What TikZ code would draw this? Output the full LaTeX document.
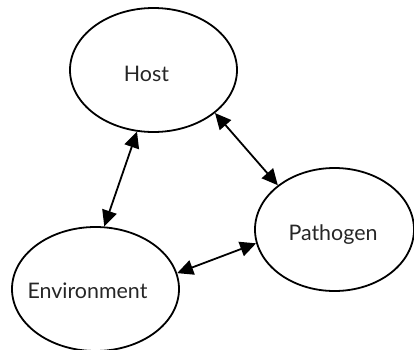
\documentclass[tikz,border=0pt]{standalone}
\usepackage{fontspec}
\setmainfont{Lato}
\usetikzlibrary{shapes.geometric,arrows.meta}
\begin{document}
\begin{tikzpicture}[x=1bp,y=-1bp,
  oval/.style={draw=black, line width=1.8bp, ellipse, inner sep=0pt},
  lbl/.style={font=\fontsize{21.5}{25}\selectfont, text=black!85, anchor=base, inner sep=0pt},
  link/.style={line width=1.8bp, {Triangle[length=16bp,width=15bp]}-{Triangle[length=16bp,width=15bp]}}]
\useasboundingbox (0,0) rectangle (414,350);
\node[oval, minimum width=167bp, minimum height=124bp] (host) at (153.5,70) {};
\node[oval, minimum width=159bp, minimum height=123bp] (path) at (334.5,229.5) {};
\node[oval, minimum width=167bp, minimum height=124bp] (env) at (95.5,289) {};
\node[lbl] (hostlbl) at (146.5,81) {Host};
\node[lbl] (pathlbl) at (333,240.7) {Pathogen};
\node[lbl] (envlbl) at (87.5,298) {Environment};
\draw[link] (host.-105) -- (env.82);
\draw[link] (host.-35) -- (path.142);
\draw[link] (env.11.5) -- (path.-170.5);
\end{tikzpicture}
\end{document}
